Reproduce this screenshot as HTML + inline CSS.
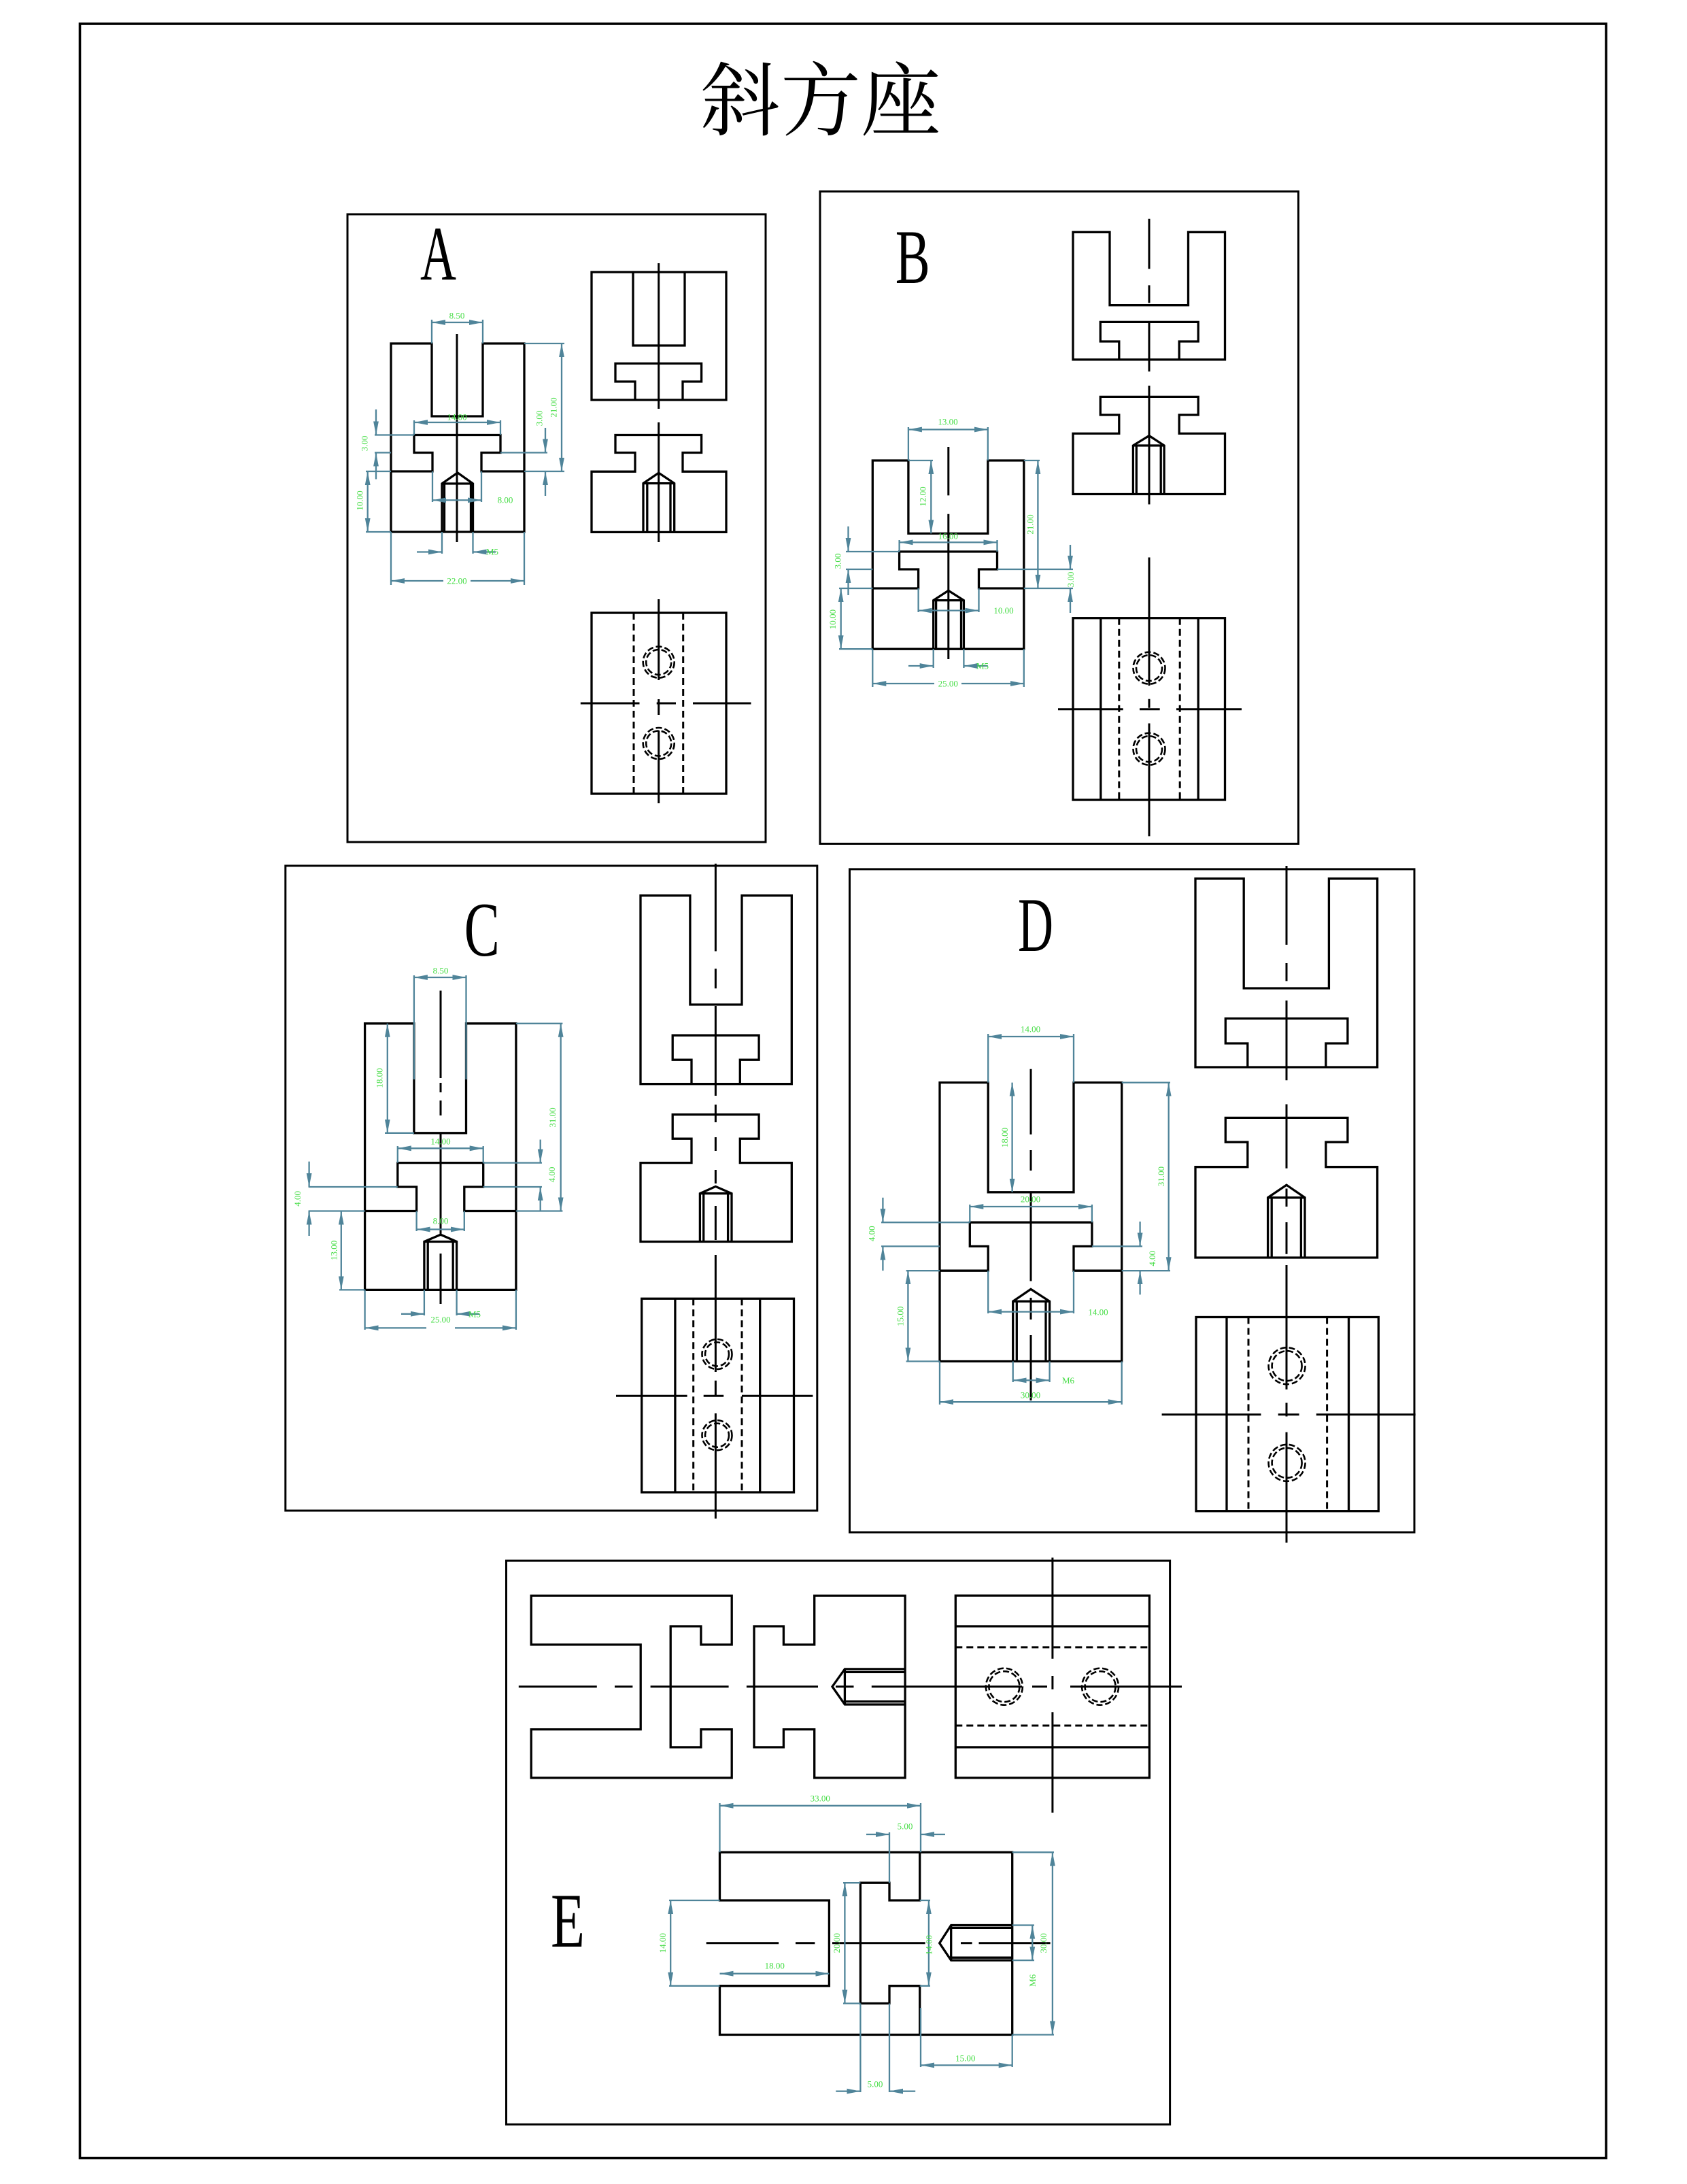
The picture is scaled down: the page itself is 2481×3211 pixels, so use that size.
<!DOCTYPE html>
<html>
<head>
<meta charset="utf-8">
<style>
  html, body { margin:0; padding:0; background:#fff; }
  svg { display:block; }
  .k { stroke:#000; stroke-width:3.3; fill:none; stroke-linejoin:miter; }
  .b { stroke:#000; stroke-width:3; fill:none; }
  .c { stroke:#000; stroke-width:3; fill:none; }
  .h { stroke:#000; stroke-width:3; fill:none; stroke-dasharray:10 6; }
  .hc { stroke:#000; stroke-width:2.6; fill:none; stroke-dasharray:9 4; }
  .d { stroke:#4f8499; stroke-width:2.3; fill:none; }
  .da { stroke:#4f8499; stroke-width:2.3; fill:none; marker-start:url(#ar); marker-end:url(#ar); }
  .de { stroke:#4f8499; stroke-width:2.3; fill:none; marker-end:url(#ar); }
  .ds { stroke:#4f8499; stroke-width:2.3; fill:none; marker-start:url(#ar); }
  .t { font-family:"Liberation Serif", serif; font-size:13px; fill:#45dd45; text-anchor:middle; dominant-baseline:central; }
  .L { font-family:"Liberation Serif", serif; font-size:113px; fill:#000; }
</style>
</head>
<body>
<svg width="2481" height="3211" viewBox="0 0 2481 3211" xmlns="http://www.w3.org/2000/svg">
<defs>
  <marker id="ar" markerUnits="userSpaceOnUse" markerWidth="20" markerHeight="10" refX="18" refY="3.5" orient="auto-start-reverse" viewBox="0 0 18 7">
    <path d="M0,0 L18,3.5 L0,7 Z" fill="#4f8499"/>
  </marker>
</defs>
<rect x="0" y="0" width="2481" height="3211" fill="#fff"/>

<!-- Outer border -->
<rect x="117.5" y="35" width="2244.5" height="3137.7" fill="none" stroke="#000" stroke-width="3.6"/>

<!-- Title -->
<text x="1030" y="190" font-family="'Liberation Serif','Noto Serif CJK SC','Noto Sans CJK SC',serif" font-size="118" fill="#000">斜方座</text>

<!-- ================= PANEL A ================= -->
<rect class="b" x="511" y="315" width="615" height="923"/>
<text class="L" x="618" y="411" textLength="53" lengthAdjust="spacingAndGlyphs">A</text>

<!-- front view -->
<path class="k" d="M575,505 H635 V612 H710 V505 H771 V782 H575 Z"/>
<path class="k" d="M575,693 H636 V665.5 H609 V639.5 H736 V665.5 H708 V693 H771"/>
<path class="k" d="M650,782 V711 L673,695 L695.5,711 V782 M650,711 H695.5 M653.5,711 V782 M692.5,711 V782"/>
<path class="c" d="M672,491 V797"/>
<!-- dims A -->
<path class="d" d="M635,470 V505 M710,470 V505"/>
<path class="da" d="M635,474 H710"/>
<text class="t" x="672" y="464">8.50</text>
<path class="d" d="M575,782 V860 M771,782 V860"/>
<path class="ds" d="M575,854 H652"/>
<path class="de" d="M692,854 H771"/>
<text class="t" x="672" y="854">22.00</text>
<path class="d" d="M650,782 V814 M695.5,782 V814"/>
<path class="de" d="M613,811.5 H650"/>
<path class="de" d="M729,811.5 H695.5"/>
<text class="t" x="724" y="811">M5</text>
<path class="d" d="M771,505 H830 M771,693 H830"/>
<path class="da" d="M826,505 V693"/>
<text class="t" x="814" y="599" transform="rotate(-90 814 599)">21.00</text>
<path class="d" d="M736,665.5 H805"/>
<path class="de" d="M802,629 V665.5"/>
<path class="de" d="M802,729 V693"/>
<text class="t" x="793" y="615" transform="rotate(-90 793 615)">3.00</text>
<path class="d" d="M609,618 V639.5 M736,618 V639.5"/>
<path class="da" d="M609,621 H736"/>
<text class="t" x="672" y="613">14.00</text>
<path class="d" d="M551,639.5 H609 M551,665.5 H575"/>
<path class="de" d="M553,602 V639.5"/>
<path class="de" d="M553,704.5 V665.5"/>
<text class="t" x="536" y="652" transform="rotate(-90 536 652)">3.00</text>
<path class="d" d="M538,693 H575 M538,782 H575"/>
<path class="da" d="M540.7,693 V782"/>
<text class="t" x="529" y="736" transform="rotate(-90 529 736)">10.00</text>
<path class="d" d="M636,693 V738 M708,693 V738"/>
<path class="da" d="M636,735.4 H708"/>
<text class="t" x="743" y="735">8.00</text>

<!-- right views A -->
<rect class="k" x="870" y="400" width="198" height="188"/>
<path class="k" d="M931,400 V508 H1007 V400"/>
<path class="k" d="M934,588 V561 H905 V534.4 H1031.6 V561 H1004 V588"/>
<path class="c" d="M968.7,387 V601"/>

<path class="k" d="M905,639.5 H1031.6 V665.5 H1004 V693.3 H1068 V782.4 H870 V693.3 H934 V665.5 H905 Z"/>
<path class="k" d="M946,782.4 V710.6 L968.7,695.2 L991.7,710.6 V782.4 M946,710.6 H991.7 M951.8,710.6 V782.4 M986,710.6 V782.4"/>
<path class="c" d="M968.7,621 V797"/>

<rect class="k" x="870" y="901" width="198" height="266"/>
<path class="h" d="M932,901 V1167 M1004.7,901 V1167"/>
<circle class="hc" cx="968.7" cy="973.6" r="23"/>
<circle class="hc" cx="968.7" cy="973.6" r="18.5"/>
<circle class="hc" cx="968.7" cy="1093" r="23"/>
<circle class="hc" cx="968.7" cy="1093" r="18.5"/>
<path class="c" d="M853.8,1034 H940.5 M965.7,1034 H994 M1019,1034 H1104.5"/>
<path class="c" d="M968.7,881 V1000 M968.7,1028 V1051 M968.7,1074 V1181"/>

<!-- ================= PANEL B ================= -->
<rect class="b" x="1206" y="281.5" width="703.5" height="959"/>
<text class="L" x="1316.7" y="416" textLength="51" lengthAdjust="spacingAndGlyphs">B</text>

<path class="k" d="M1283.3,677 H1335.9 V784.4 H1452.8 V677 H1505.8 V954.2 H1283.3 Z"/>
<path class="k" d="M1283.3,865 H1350.6 V837 H1322.6 V811 H1466.5 V837 H1439.5 V865 H1505.8"/>
<path class="k" d="M1372.7,954.2 V882.6 L1394.8,868.3 L1417.4,882.6 V954.2 M1372.7,882.6 H1417.4 M1376.6,882.6 V954.2 M1413.5,882.6 V954.2"/>
<path class="c" d="M1394.8,657 V728.4 M1394.8,755.8 V969"/>
<!-- dims B -->
<path class="d" d="M1335.9,628 V677 M1452.8,628 V677"/>
<path class="da" d="M1335.9,631.5 H1452.8"/>
<text class="t" x="1394" y="620">13.00</text>
<path class="d" d="M1335.9,677 H1372"/>
<path class="da" d="M1369.3,677 V784.4"/>
<text class="t" x="1357" y="730" transform="rotate(-90 1357 730)">12.00</text>
<path class="d" d="M1505.8,677 H1529 M1505.8,865 H1578"/>
<path class="da" d="M1526.4,677 V865"/>
<text class="t" x="1515" y="771" transform="rotate(-90 1515 771)">21.00</text>
<path class="d" d="M1322.6,794 V811 M1466.5,794 V811"/>
<path class="da" d="M1322.6,797.4 H1466.5"/>
<text class="t" x="1394.3" y="788">16.00</text>
<path class="d" d="M1244,811 H1322.6 M1244,837 H1283.3"/>
<path class="de" d="M1247.5,774 V811"/>
<path class="de" d="M1247.5,875 V837"/>
<text class="t" x="1232" y="825" transform="rotate(-90 1232 825)">3.00</text>
<path class="d" d="M1234,865 H1283.3 M1234,954.2 H1283.3"/>
<path class="da" d="M1236.7,865 V954.2"/>
<text class="t" x="1224.4" y="910.6" transform="rotate(-90 1224.4 910.6)">10.00</text>
<path class="d" d="M1466.5,837 H1578"/>
<path class="de" d="M1574,801 V837"/>
<path class="de" d="M1574,901 V865"/>
<text class="t" x="1574.6" y="852" transform="rotate(-90 1574.6 852)">3.00</text>
<path class="d" d="M1350.6,865 V900 M1439.5,865 V900"/>
<path class="da" d="M1350.6,897.6 H1439.5"/>
<text class="t" x="1476" y="897.6">10.00</text>
<path class="d" d="M1283.3,954.2 V1010 M1505.8,954.2 V1010"/>
<path class="ds" d="M1283.3,1005 H1374"/>
<path class="de" d="M1414,1005 H1505.8"/>
<text class="t" x="1394.3" y="1005">25.00</text>
<path class="d" d="M1372.7,954.2 V982 M1417.4,954.2 V982"/>
<path class="de" d="M1336,979 H1372.7"/>
<path class="de" d="M1452.8,979 H1417.4"/>
<text class="t" x="1445" y="979">M5</text>

<!-- right views B -->
<path class="k" d="M1578,341.3 H1632 V448.7 H1747.5 V341.3 H1801.5 V528.7 H1578 Z"/>
<path class="k" d="M1645.8,528.7 V502 H1618.3 V473.4 H1762.2 V502 H1734.2 V528.7"/>
<path class="c" d="M1690,321.8 V395.3 M1690,419.4 V445.4 M1690,473.4 V546.3"/>

<path class="k" d="M1618.3,583.4 H1762.2 V610 H1734.2 V637.4 H1801.5 V726.5 H1578 V637.4 H1645.8 V610 H1618.3 Z"/>
<path class="k" d="M1666.4,726.5 V655 L1690,640.6 L1712.1,655 V726.5 M1666.4,655 H1712.1 M1671.3,655 V726.5 M1707.2,655 V726.5"/>
<path class="c" d="M1690,567 V741.5"/>

<rect class="k" x="1578" y="908.7" width="223.5" height="267.3"/>
<path class="k" d="M1618.8,908.7 V1176 M1762.2,908.7 V1176"/>
<path class="h" d="M1645.8,908.7 V1176 M1735.2,908.7 V1176"/>
<circle class="hc" cx="1690" cy="982.2" r="23.5"/>
<circle class="hc" cx="1690" cy="982.2" r="19"/>
<circle class="hc" cx="1690" cy="1101.2" r="23.5"/>
<circle class="hc" cx="1690" cy="1101.2" r="19"/>
<path class="c" d="M1556,1042.7 H1651.7 M1676,1042.7 H1705.7 M1730,1042.7 H1826"/>
<path class="c" d="M1690,819.5 V1008 M1690,1027.7 V1040.7 M1690,1063.5 V1229.4"/>

<!-- ================= PANEL C ================= -->
<rect class="b" x="419.8" y="1272.9" width="782" height="948.1"/>
<text class="L" x="682.8" y="1405" textLength="52" lengthAdjust="spacingAndGlyphs">C</text>

<path class="k" d="M536.6,1504.8 H608.9 V1665.8 H685.5 V1504.8 H758.9 V1896.4 H536.6 Z"/>
<path class="k" d="M536.6,1780.5 H612.6 V1745 H584.8 V1709.6 H710.7 V1745 H682.8 V1780.5 H758.9"/>
<path class="k" d="M623.9,1896.4 V1825.5 L648,1815.2 L671.6,1825.5 V1896.4 M623.9,1825.5 H671.6 M629.2,1825.5 V1896.4 M666.2,1825.5 V1896.4"/>
<path class="c" d="M648,1456.5 V1585 M648,1592 V1606 M648,1618 V1640 M648,1665.8 V1817 M648,1843 V1917"/>
<!-- dims C -->
<path class="d" d="M608.9,1434 V1587 M685.5,1434 V1587"/>
<path class="da" d="M608.9,1437 H685.5"/>
<text class="t" x="648" y="1427">8.50</text>
<path class="d" d="M566,1665.8 H608.9"/>
<path class="da" d="M569.8,1504.8 V1665.8"/>
<text class="t" x="558" y="1585" transform="rotate(-90 558 1585)">18.00</text>
<path class="d" d="M758.9,1504.8 H827.4 M758.9,1780.5 H827.4"/>
<path class="da" d="M824.7,1504.8 V1780.5"/>
<text class="t" x="812.4" y="1643" transform="rotate(-90 812.4 1643)">31.00</text>
<path class="d" d="M584.8,1685 V1709.6 M710.7,1685 V1709.6"/>
<path class="da" d="M584.8,1688.3 H710.7"/>
<text class="t" x="648" y="1678">14.00</text>
<path class="d" d="M710.7,1709.6 H797 M710.7,1745 H797"/>
<path class="de" d="M794.7,1675.5 V1709.6"/>
<path class="de" d="M794.7,1780.5 V1745"/>
<text class="t" x="811.4" y="1727" transform="rotate(-90 811.4 1727)">4.00</text>
<path class="d" d="M453.6,1745 H584.8 M453.6,1780.5 H536.6"/>
<path class="de" d="M454.6,1707.7 V1745"/>
<path class="de" d="M454.6,1817 V1780.5"/>
<text class="t" x="437.5" y="1762.4" transform="rotate(-90 437.5 1762.4)">4.00</text>
<path class="d" d="M499,1896.4 H536.6"/>
<path class="da" d="M501.8,1780.5 V1896.4"/>
<text class="t" x="491" y="1838.4" transform="rotate(-90 491 1838.4)">13.00</text>
<path class="d" d="M612.6,1780.5 V1810 M682.8,1780.5 V1810"/>
<path class="da" d="M612.6,1807.5 H682.8"/>
<text class="t" x="648" y="1795">8.00</text>
<path class="d" d="M536.6,1896.4 V1955 M758.9,1896.4 V1955"/>
<path class="ds" d="M536.6,1952.4 H627"/>
<path class="de" d="M669,1952.4 H758.9"/>
<text class="t" x="648" y="1940">25.00</text>
<path class="d" d="M623.9,1896.4 V1934 M671.6,1896.4 V1934"/>
<path class="de" d="M590,1931.8 H623.9"/>
<path class="de" d="M705.3,1931.8 H671.6"/>
<text class="t" x="698" y="1932">M5</text>

<!-- right views C -->
<path class="k" d="M942,1316.7 H1014.9 V1477 H1091 V1316.7 H1164.3 V1593.7 H942 Z"/>
<path class="k" d="M1017,1593.7 V1558.2 H989.2 V1522.2 H1116.1 V1558.2 H1088.3 V1593.7"/>
<path class="c" d="M1052.4,1269.7 V1398.5 M1052.4,1424.3 V1453.2 M1052.4,1479 V1611"/>

<path class="k" d="M989.2,1638.7 H1116.1 V1674.2 H1088.3 V1709.6 H1164.3 V1825.5 H942 V1709.6 H1017 V1674.2 H989.2 Z"/>
<path class="k" d="M1029.4,1825.5 V1754.7 L1052.4,1744.4 L1076,1754.7 V1825.5 M1029.4,1754.7 H1076 M1034.7,1754.7 V1825.5 M1070.6,1754.7 V1825.5"/>
<path class="c" d="M1052.4,1624 V1650 M1052.4,1672 V1692 M1052.4,1720 V1740 M1052.4,1773 V1823 M1052.4,1845 V2017 M1052.4,2029.7 V2052.3 M1052.4,2078 V2232.6"/>

<rect class="k" x="943.7" y="1909.3" width="223.8" height="284.7"/>
<path class="k" d="M992.9,1909.3 V2194 M1117.7,1909.3 V2194"/>
<path class="h" d="M1019.7,1909.3 V2194 M1091,1909.3 V2194"/>
<circle class="hc" cx="1054.5" cy="1991" r="22"/>
<circle class="hc" cx="1054.5" cy="1991" r="17.5"/>
<circle class="hc" cx="1054.5" cy="2110.2" r="22"/>
<circle class="hc" cx="1054.5" cy="2110.2" r="17.5"/>
<path class="c" d="M906,2052.3 H1010.6 M1034.7,2052.3 H1064.2 M1091,2052.3 H1195.4"/>

<!-- ================= PANEL D ================= -->
<rect class="b" x="1249.5" y="1277.9" width="830.5" height="975"/>
<text class="L" x="1497" y="1398" textLength="52" lengthAdjust="spacingAndGlyphs">D</text>

<path class="k" d="M1382,1591.6 H1453.2 V1752.8 H1579 V1591.6 H1649.7 V2001.5 H1382 Z"/>
<path class="k" d="M1382,1868.2 H1453.2 V1832.4 H1426.3 V1797.2 H1605.9 V1832.4 H1579 V1868.2 H1649.7"/>
<path class="k" d="M1489.7,2001.5 V1913.3 L1516,1895.4 L1543.6,1913.3 V2001.5 M1489.7,1913.3 H1543.6 M1495.3,1913.3 V2001.5 M1538,1913.3 V2001.5"/>
<path class="c" d="M1516,1571.7 V1667.9 M1516,1691 V1721 M1516,1754 V1883.5 M1516,1908 V1940 M1516,1963 V2059"/>
<!-- dims D -->
<path class="d" d="M1453.2,1520 V1591.6 M1579,1520 V1591.6"/>
<path class="da" d="M1453.2,1524 H1579"/>
<text class="t" x="1515.5" y="1513">14.00</text>
<path class="da" d="M1488.6,1591.6 V1752.8"/>
<text class="t" x="1477.4" y="1672.5" transform="rotate(-90 1477.4 1672.5)">18.00</text>
<path class="d" d="M1649.7,1591.6 H1721 M1649.7,1868.2 H1721"/>
<path class="da" d="M1718.7,1591.6 V1868.2"/>
<text class="t" x="1707.4" y="1729.6" transform="rotate(-90 1707.4 1729.6)">31.00</text>
<path class="d" d="M1426.3,1771 V1797.2 M1605.9,1771 V1797.2"/>
<path class="da" d="M1426.3,1774 H1605.9"/>
<text class="t" x="1515.5" y="1763">20.00</text>
<path class="d" d="M1296,1797.2 H1426.3 M1296,1832.4 H1382"/>
<path class="de" d="M1298.4,1760.8 V1797.2"/>
<path class="de" d="M1298.4,1868.2 V1832.4"/>
<text class="t" x="1282" y="1813.8" transform="rotate(-90 1282 1813.8)">4.00</text>
<path class="d" d="M1332.6,1868.2 H1382 M1332.6,2001.5 H1382"/>
<path class="da" d="M1335.4,1868.2 V2001.5"/>
<text class="t" x="1324.2" y="1935.2" transform="rotate(-90 1324.2 1935.2)">15.00</text>
<path class="d" d="M1605.9,1832.4 H1680"/>
<path class="de" d="M1676.6,1796 V1832.4"/>
<path class="de" d="M1676.6,1903.4 V1868.2"/>
<text class="t" x="1694.5" y="1850.3" transform="rotate(-90 1694.5 1850.3)">4.00</text>
<path class="d" d="M1453.2,1868.2 V1931 M1579,1868.2 V1931"/>
<path class="da" d="M1453.2,1928.6 H1579"/>
<text class="t" x="1615" y="1929">14.00</text>
<path class="d" d="M1382,2001.5 V2065 M1649.7,2001.5 V2065"/>
<path class="da" d="M1382,2061.2 H1649.7"/>
<text class="t" x="1515.5" y="2051">30.00</text>
<path class="d" d="M1489.7,2001.5 V2032 M1543.6,2001.5 V2032"/>
<path class="da" d="M1489.7,2029.4 H1543.6"/>
<text class="t" x="1571" y="2029.4">M6</text>

<!-- right views D -->
<path class="k" d="M1758,1291.8 H1829.2 V1453 H1954.4 V1291.8 H2025.6 V1569 H1758 Z"/>
<path class="k" d="M1834.8,1569 V1534 H1802.3 V1497.4 H1981.9 V1534 H1949.9 V1569"/>
<path class="c" d="M1892,1273 V1389 M1892,1416 V1442.4 M1892,1471 V1588.3"/>

<path class="k" d="M1802.3,1643.4 H1981.9 V1679.2 H1949.9 V1715.7 H2025.6 V1849 H1758 V1715.7 H1834.8 V1679.2 H1802.3 Z"/>
<path class="k" d="M1864.6,1849 V1760.8 L1892,1742.2 L1919,1760.8 V1849 M1864.6,1760.8 H1919 M1870.2,1760.8 V1849 M1913.4,1760.8 V1849"/>
<path class="c" d="M1892,1623.5 V1717.7 M1892,1747.5 V1774 M1892,1797 V1843.7 M1892,1860 V2042.7 M1892,2062.5 V2082.5 M1892,2105.6 V2268"/>

<rect class="k" x="1759" y="1936.5" width="268.3" height="285.2"/>
<path class="k" d="M1804,1936.5 V2221.7 M1983.5,1936.5 V2221.7"/>
<path class="h" d="M1836,1936.5 V2221.7 M1951.6,1936.5 V2221.7"/>
<circle class="hc" cx="1892.6" cy="2008.2" r="27"/>
<circle class="hc" cx="1892.6" cy="2008.2" r="22"/>
<circle class="hc" cx="1892.6" cy="2150.8" r="27"/>
<circle class="hc" cx="1892.6" cy="2150.8" r="22"/>
<path class="c" d="M1708.6,2079.8 H1854.5 M1879.7,2079.8 H1910.6 M1935.8,2079.8 H2081.7"/>

<!-- ================= PANEL E ================= -->
<rect class="b" x="744.5" y="2294.5" width="976.1" height="828.9"/>
<text class="L" x="810" y="2862" textLength="50" lengthAdjust="spacingAndGlyphs">E</text>

<!-- top row views -->
<path class="k" d="M781.2,2346.1 H1076.2 V2418 H1030.9 V2391 H986.2 V2568.9 H1030.9 V2542.6 H1076.2 V2613.8 H781.2 V2542.6 H942.2 V2418 H781.2 Z"/>
<path class="k" d="M1109,2391 H1152.4 V2418 H1197.7 V2346.1 H1331.1 V2613.8 H1197.7 V2542.6 H1152.4 V2568.9 H1109 Z"/>
<path class="k" d="M1331.1,2453.9 H1242.4 L1224,2479.7 L1242.4,2506 H1331.1 M1242.4,2453.9 V2506 M1242.4,2458.4 H1331.1 M1242.4,2501.6 H1331.1"/>
<path class="c" d="M762.8,2479.7 H877.8 M904,2479.7 H930.4 M956.6,2479.7 H1071.6 M1097.9,2479.7 H1203 M1229,2479.7 H1255.5 M1281.8,2479.7 H1503 M1518,2479.7 H1540 M1574,2479.7 H1738"/>

<rect class="k" x="1405.3" y="2346" width="285.1" height="267.8"/>
<path class="k" d="M1405.3,2391 H1690.4 M1405.3,2568.9 H1690.4"/>
<path class="h" d="M1405.3,2421.9 H1690.4 M1405.3,2537 H1690.4"/>
<circle class="hc" cx="1476.9" cy="2479.7" r="27"/>
<circle class="hc" cx="1476.9" cy="2479.7" r="22.5"/>
<circle class="hc" cx="1618.1" cy="2479.7" r="27"/>
<circle class="hc" cx="1618.1" cy="2479.7" r="22.5"/>
<path class="c" d="M1547.9,2290 V2438.7 M1547.9,2464 V2483.6 M1547.9,2517.3 V2665"/>

<!-- front view E -->
<path class="k" d="M1058.5,2794 V2723.3 H1488.7 V2991.5 H1058.5 V2919.7 H1219.4 V2794 Z"/>
<path class="k" d="M1352.7,2723.3 V2794 H1308 V2768.2 H1265.4 V2945.5 H1308 V2919.7 H1352.7 V2991.5"/>
<path class="k" d="M1488.7,2830.5 H1398.7 L1381.7,2856.8 L1398.7,2882.1 H1488.7 M1398.7,2830.5 V2882.1 M1398.7,2834.4 H1488.7 M1398.7,2878.2 H1488.7"/>
<path class="c" d="M1038.7,2856.8 H1145.2 M1170,2856.8 H1198.4 M1224,2856.8 H1360.6 M1413,2856.8 H1429.6 M1439.5,2856.8 H1544.6"/>
<!-- dims E -->
<path class="d" d="M1058.5,2651 V2723.3 M1354,2651 V2723.3"/>
<path class="da" d="M1058.5,2654.8 H1354"/>
<text class="t" x="1206.3" y="2644">33.00</text>
<path class="d" d="M1308,2694 V2768.2"/>
<path class="de" d="M1274,2697 H1308"/>
<path class="de" d="M1390,2697 H1354"/>
<text class="t" x="1331" y="2685">5.00</text>
<path class="d" d="M1488.7,2723.3 H1550 M1488.7,2991.5 H1550"/>
<path class="da" d="M1547.9,2723.3 V2991.5"/>
<text class="t" x="1534.7" y="2856.8" transform="rotate(-90 1534.7 2856.8)">30.00</text>
<path class="d" d="M1488.7,2830.5 H1521 M1488.7,2882.1 H1521"/>
<path class="da" d="M1518.3,2830.5 V2882.1"/>
<text class="t" x="1518.3" y="2911.8" transform="rotate(-90 1518.3 2911.8)">M6</text>
<path class="d" d="M984,2794 H1058.5 M984,2919.7 H1058.5"/>
<path class="da" d="M986.2,2794 V2919.7"/>
<text class="t" x="974.4" y="2856.8" transform="rotate(-90 974.4 2856.8)">14.00</text>
<path class="da" d="M1058.5,2901.7 H1219.4"/>
<text class="t" x="1139.3" y="2890">18.00</text>
<path class="d" d="M1240,2768.2 H1265.4 M1240,2945.5 H1265.4"/>
<path class="da" d="M1242.4,2768.2 V2945.5"/>
<text class="t" x="1230.6" y="2856.8" transform="rotate(-90 1230.6 2856.8)">20.00</text>
<path class="d" d="M1352.7,2794 H1368 M1352.7,2919.7 H1368"/>
<path class="da" d="M1365.9,2794 V2919.7"/>
<text class="t" x="1365.9" y="2859.6" transform="rotate(-90 1365.9 2859.6)">14.00</text>
<path class="d" d="M1354,2952 V3039 M1488.7,2991.5 V3039"/>
<path class="da" d="M1354,3036.4 H1488.7"/>
<text class="t" x="1419.7" y="3026">15.00</text>
<path class="d" d="M1265.4,2945.5 V3076 M1308,2945.5 V3076"/>
<path class="de" d="M1229.3,3074.6 H1265.4"/>
<path class="de" d="M1346.2,3074.6 H1308"/>
<text class="t" x="1287" y="3064">5.00</text>

</svg>
</body>
</html>
